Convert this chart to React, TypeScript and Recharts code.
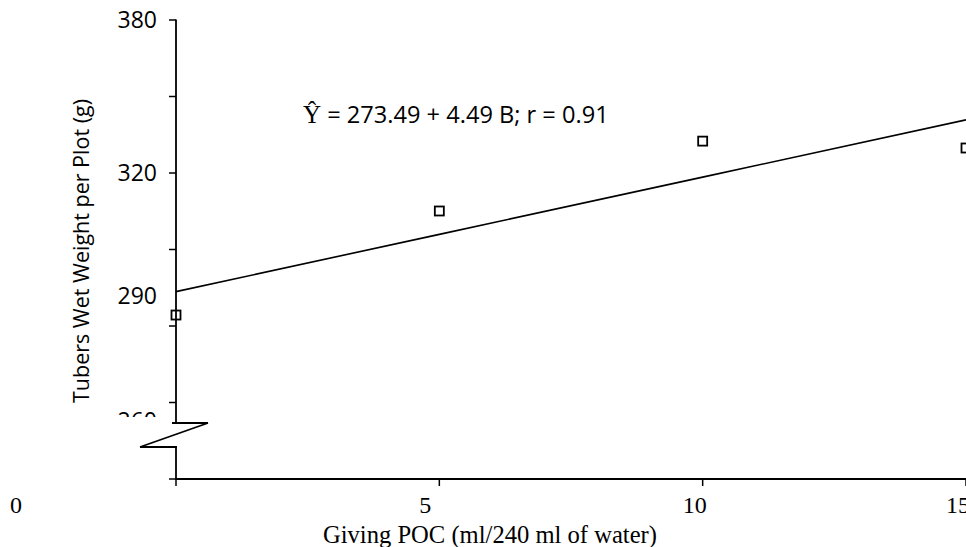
import React from 'react';
import { ComposedChart, XAxis, YAxis, Line, Scatter, Customized } from 'recharts';

// Data
const doses = [0, 5, 10, 15];
const observed = [264.3, 305.1, 332.5, 329.8];
const fitted = [273.49, 295.94, 318.39, 340.84];
const xTicks = [0, 5, 10, 15];
const yTicks = [200, 230, 260, 290, 320, 350, 380];
const yTickLabels: Record<number, string> = { 380: '380', 320: '320', 290: '290', 260: '260' };
const xTickLabels: Record<number, string> = { 0: '0', 5: '5', 10: '10', 15: '15' };
const equationHat = 'Ŷ';
const equationRest = ' = 273.49 + 4.49 B; r = 0.91';
const xTitle = 'Giving POC (ml/240 ml of water)';
const yTitle = 'Tubers Wet Weight per Plot (g)';

const data = doses.map((d, i) => ({ dose: d, observed: observed[i], fitted: fitted[i] }));

const SANS = '"Open Sans", "Noto Sans", sans-serif';
const SERIF = '"Liberation Serif", "DejaVu Serif", serif';

// label placement offsets (styling)
const xLabelDx: Record<number, number> = { 0: -160, 5: -14, 10: -8, 15: -8 };
const yLabelDy: Record<number, number> = { 290: 46, 260: 95 };

const XTick = (props: any) => {
  const { x, y, payload } = props;
  const v = payload.value;
  const txt = xTickLabels[v];
  if (txt === undefined) return null;
  return (
    <text x={x + (xLabelDx[v] || 0)} y={y} dy={27} textAnchor="middle" fontFamily={SERIF} fontSize={24} fill="#000">
      {txt}
    </text>
  );
};

const YTick = (props: any) => {
  const { x, y, payload } = props;
  const v = payload.value;
  const txt = yTickLabels[v];
  if (!txt) return null;
  return (
    <g>
      <defs>
        <clipPath id="ytick-break-clip">
          <rect x={0} y={0} width={176} height={417} />
        </clipPath>
      </defs>
      <text
        x={x}
        y={y + (yLabelDy[v] || 0)}
        dy={8}
        textAnchor="end"
        fontFamily={SANS}
        fontSize={23}
        fill="#000"
        clipPath="url(#ytick-break-clip)"
      >
        {txt}
      </text>
    </g>
  );
};

const Square = (props: any) => {
  const { cx, cy } = props;
  if (cx == null || cy == null) return null;
  return <rect x={cx - 4.5} y={cy - 4.5} width={9} height={9} fill="none" stroke="#000" strokeWidth={1.8} />;
};

const Decorations = () => (
  <g>
    {/* broken y-axis line */}
    <line x1={176} y1={19.5} x2={176} y2={423} stroke="#000" strokeWidth={1.8} />
    <line x1={176} y1={447} x2={176} y2={480} stroke="#000" strokeWidth={1.8} />
    <line x1={172} y1={423} x2={208} y2={423} stroke="#000" strokeWidth={1.8} />
    <line x1={208} y1={423} x2={140} y2={447} stroke="#000" strokeWidth={1.8} />
    <line x1={140} y1={447} x2={177} y2={447} stroke="#000" strokeWidth={1.8} />
    {/* equation */}
    <text x={303} y={123} fill="#000">
      <tspan fontFamily={SERIF} fontSize={25}>{equationHat}</tspan>
      <tspan fontFamily={SANS} fontSize={23.6}>{equationRest}</tspan>
    </text>
    {/* titles */}
    <text x={490} y={543} textAnchor="middle" fontFamily={SERIF} fontSize={24.6} fill="#000">
      {xTitle}
    </text>
    <text
      x={80}
      y={251}
      transform="rotate(-90 80 251)"
      textAnchor="middle"
      dominantBaseline="central"
      fontFamily={SANS}
      fontSize={21.5}
      fill="#000"
    >
      {yTitle}
    </text>
  </g>
);

export default function App() {
  return (
    <div style={{ position: 'absolute', left: 0, top: 0, width: 966, height: 547, overflow: 'hidden', background: '#fff' }}>
      <ComposedChart width={990} height={547} data={data} margin={{ top: 20, right: 24, left: 0, bottom: 0 }}>
        <XAxis
          dataKey="dose"
          type="number"
          domain={[0, 15]}
          ticks={xTicks}
          interval={0}
          height={68}
          tickSize={7}
          tickMargin={0}
          axisLine={{ stroke: '#000', strokeWidth: 1.8 }}
          tickLine={{ stroke: '#000', strokeWidth: 1.5 }}
          tick={<XTick />}
        />
        <YAxis
          type="number"
          domain={[200, 380]}
          ticks={yTicks}
          interval={0}
          width={176}
          tickSize={7}
          tickMargin={12}
          axisLine={false}
          tickLine={{ stroke: '#000', strokeWidth: 1.5 }}
          tick={<YTick />}
        />
        <Line
          type="linear"
          dataKey="fitted"
          stroke="#000"
          strokeWidth={1.6}
          dot={false}
          activeDot={false}
          isAnimationActive={false}
        />
        <Scatter dataKey="observed" shape={<Square />} isAnimationActive={false} />
        <Customized component={<Decorations />} />
      </ComposedChart>
    </div>
  );
}
